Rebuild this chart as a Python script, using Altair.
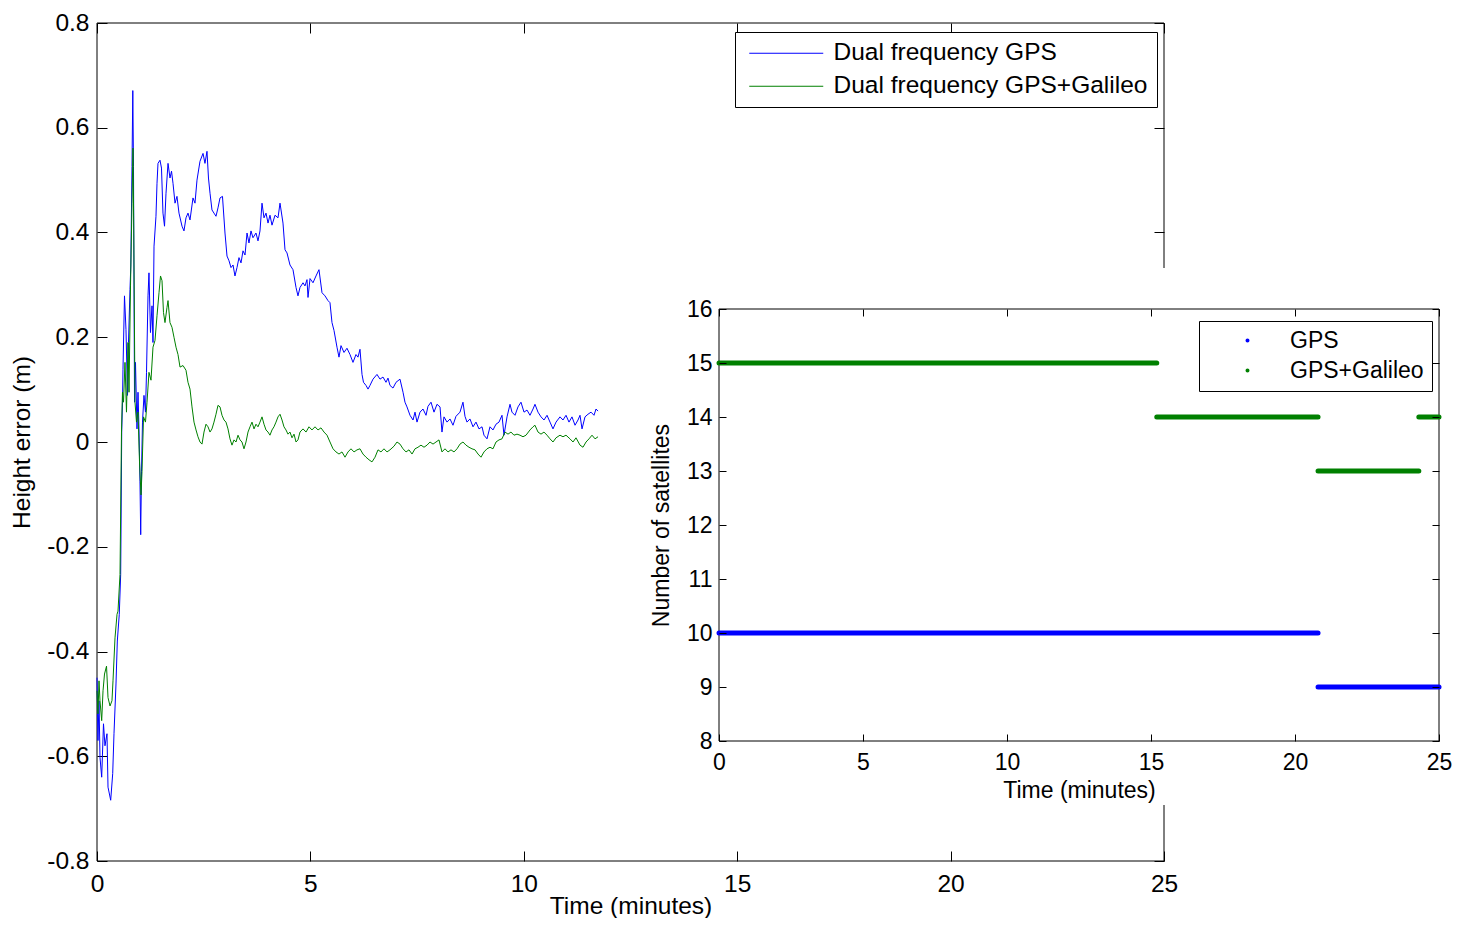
import altair as alt
import pandas as pd

# ---------------- data ----------------
GPS_SERIES = "Dual frequency GPS"
GAL_SERIES = "Dual frequency GPS+Galileo"

# (time in minutes, height error in m)
gps_height = [
    (0.000, -0.450), (0.023, -0.570), (0.047, -0.494), (0.070, -0.602), (0.110, -0.640),
    (0.152, -0.538), (0.187, -0.580), (0.234, -0.557), (0.258, -0.659), (0.321, -0.684),
    (0.368, -0.633), (0.398, -0.557), (0.445, -0.462), (0.476, -0.380), (0.522, -0.329),
    (0.555, -0.253), (0.579, 0.019), (0.597, 0.076), (0.609, 0.139), (0.644, 0.279),
    (0.679, 0.215), (0.715, 0.089), (0.738, 0.190), (0.773, 0.291), (0.792, 0.336),
    (0.820, 0.526), (0.839, 0.671), (0.855, 0.526), (0.879, 0.076), (0.902, 0.152),
    (0.937, 0.025), (0.961, 0.095), (0.984, 0.025), (1.007, -0.076), (1.024, -0.177),
    (1.043, -0.057), (1.066, 0.038), (1.101, 0.089), (1.136, 0.057), (1.160, 0.133),
    (1.195, 0.279), (1.218, 0.323), (1.253, 0.209), (1.289, 0.260), (1.312, 0.190),
    (1.336, 0.374), (1.382, 0.431), (1.406, 0.494), (1.429, 0.532), (1.476, 0.538),
    (1.511, 0.523), (1.546, 0.437), (1.582, 0.412), (1.617, 0.475), (1.664, 0.532),
    (1.710, 0.504), (1.746, 0.517), (1.781, 0.494), (1.828, 0.456), (1.874, 0.469),
    (1.921, 0.437), (1.992, 0.412), (2.038, 0.403), (2.085, 0.428), (2.132, 0.437),
    (2.179, 0.424), (2.249, 0.466), (2.296, 0.456), (2.343, 0.500), (2.413, 0.536),
    (2.484, 0.551), (2.530, 0.532), (2.577, 0.555), (2.612, 0.504), (2.648, 0.475),
    (2.694, 0.443), (2.741, 0.437), (2.788, 0.431), (2.835, 0.447), (2.882, 0.466),
    (2.940, 0.469), (2.999, 0.399), (3.046, 0.355), (3.093, 0.346), (3.140, 0.333),
    (3.187, 0.338), (3.233, 0.317), (3.280, 0.333), (3.327, 0.352), (3.374, 0.342),
    (3.421, 0.365), (3.468, 0.357), (3.515, 0.399), (3.561, 0.380), (3.608, 0.403),
    (3.655, 0.390), (3.725, 0.399), (3.772, 0.384), (3.819, 0.403), (3.866, 0.456),
    (3.913, 0.428), (3.960, 0.437), (4.007, 0.418), (4.053, 0.433), (4.100, 0.414),
    (4.171, 0.433), (4.241, 0.428), (4.288, 0.456), (4.358, 0.418), (4.405, 0.367),
    (4.452, 0.361), (4.522, 0.338), (4.592, 0.329), (4.663, 0.295), (4.709, 0.279),
    (4.756, 0.295), (4.827, 0.304), (4.873, 0.298), (4.920, 0.310), (4.944, 0.276),
    (4.991, 0.312), (5.061, 0.304), (5.131, 0.317), (5.201, 0.329), (5.272, 0.285),
    (5.342, 0.279), (5.412, 0.270), (5.459, 0.266), (5.506, 0.228), (5.553, 0.213),
    (5.623, 0.181), (5.670, 0.162), (5.717, 0.184), (5.787, 0.171), (5.857, 0.179),
    (5.928, 0.167), (5.998, 0.152), (6.068, 0.167), (6.115, 0.162), (6.162, 0.177),
    (6.209, 0.129), (6.244, 0.114), (6.303, 0.108), (6.350, 0.101), (6.396, 0.108),
    (6.467, 0.120), (6.560, 0.129), (6.631, 0.120), (6.701, 0.124), (6.771, 0.114),
    (6.818, 0.122), (6.865, 0.108), (6.935, 0.103), (7.006, 0.114), (7.099, 0.120),
    (7.170, 0.095), (7.216, 0.076), (7.263, 0.067), (7.334, 0.051), (7.404, 0.042),
    (7.451, 0.057), (7.498, 0.038), (7.568, 0.057), (7.638, 0.063), (7.709, 0.051),
    (7.755, 0.068), (7.826, 0.076), (7.896, 0.057), (7.966, 0.072), (8.037, 0.067),
    (8.083, 0.019), (8.130, 0.048), (8.201, 0.038), (8.271, 0.044), (8.341, 0.032),
    (8.411, 0.049), (8.505, 0.057), (8.575, 0.076), (8.622, 0.049), (8.669, 0.038),
    (8.739, 0.044), (8.810, 0.029), (8.880, 0.038), (8.950, 0.025), (9.021, 0.029),
    (9.067, 0.013), (9.138, 0.006), (9.208, 0.029), (9.278, 0.023), (9.349, 0.034),
    (9.419, 0.038), (9.489, 0.051), (9.536, 0.013), (9.607, 0.048), (9.677, 0.072),
    (9.723, 0.057), (9.794, 0.051), (9.864, 0.067), (9.934, 0.076), (10.005, 0.057),
    (10.075, 0.061), (10.145, 0.051), (10.216, 0.063), (10.262, 0.072), (10.333, 0.057),
    (10.403, 0.048), (10.473, 0.042), (10.544, 0.051), (10.614, 0.038), (10.684, 0.025),
    (10.755, 0.038), (10.848, 0.048), (10.918, 0.042), (10.989, 0.051), (11.059, 0.038),
    (11.129, 0.048), (11.200, 0.032), (11.270, 0.042), (11.317, 0.051), (11.364, 0.025),
    (11.434, 0.048), (11.504, 0.053), (11.575, 0.057), (11.645, 0.051), (11.692, 0.063),
    (11.739, 0.059),
]

gal_height = [
    (0.000, -0.475), (0.023, -0.519), (0.047, -0.456), (0.070, -0.494), (0.110, -0.532),
    (0.141, -0.475), (0.176, -0.443), (0.223, -0.428), (0.258, -0.488), (0.305, -0.504),
    (0.351, -0.494), (0.375, -0.456), (0.422, -0.374), (0.469, -0.329), (0.492, -0.323),
    (0.539, -0.253), (0.574, 0.019), (0.597, 0.095), (0.621, 0.076), (0.656, 0.152),
    (0.691, 0.057), (0.726, 0.190), (0.750, 0.095), (0.785, 0.298), (0.820, 0.456),
    (0.843, 0.561), (0.862, 0.399), (0.890, 0.076), (0.925, 0.038), (0.961, 0.057),
    (0.996, -0.038), (1.031, -0.101), (1.054, -0.057), (1.090, 0.048), (1.136, 0.038),
    (1.172, 0.076), (1.218, 0.133), (1.265, 0.118), (1.312, 0.181), (1.359, 0.194),
    (1.406, 0.241), (1.453, 0.285), (1.488, 0.317), (1.523, 0.308), (1.558, 0.247),
    (1.593, 0.228), (1.640, 0.257), (1.664, 0.270), (1.710, 0.228), (1.757, 0.219),
    (1.804, 0.200), (1.851, 0.181), (1.898, 0.167), (1.945, 0.143), (2.015, 0.146),
    (2.085, 0.137), (2.132, 0.114), (2.179, 0.101), (2.226, 0.067), (2.273, 0.038),
    (2.320, 0.023), (2.366, 0.010), (2.413, 0.000), (2.460, -0.004), (2.507, 0.019),
    (2.554, 0.034), (2.601, 0.029), (2.648, 0.019), (2.694, 0.025), (2.741, 0.038),
    (2.788, 0.053), (2.835, 0.070), (2.882, 0.067), (2.929, 0.051), (2.976, 0.042),
    (3.022, 0.038), (3.069, 0.025), (3.116, 0.006), (3.163, -0.006), (3.210, 0.004),
    (3.257, 0.000), (3.304, 0.013), (3.351, 0.004), (3.397, 0.000), (3.444, -0.013),
    (3.491, 0.000), (3.538, 0.019), (3.585, 0.029), (3.632, 0.038), (3.679, 0.025),
    (3.725, 0.034), (3.772, 0.029), (3.819, 0.038), (3.866, 0.048), (3.913, 0.034),
    (3.960, 0.023), (4.007, 0.019), (4.053, 0.013), (4.100, 0.023), (4.147, 0.029),
    (4.194, 0.038), (4.241, 0.048), (4.288, 0.053), (4.335, 0.042), (4.381, 0.029),
    (4.428, 0.023), (4.475, 0.015), (4.522, 0.019), (4.569, 0.008), (4.616, 0.015),
    (4.663, 0.000), (4.709, 0.004), (4.756, 0.019), (4.827, 0.025), (4.897, 0.019),
    (4.967, 0.029), (5.037, 0.023), (5.108, 0.029), (5.178, 0.023), (5.248, 0.027),
    (5.319, 0.019), (5.389, 0.013), (5.459, 0.000), (5.530, -0.013), (5.600, -0.019),
    (5.670, -0.023), (5.740, -0.019), (5.811, -0.029), (5.881, -0.019), (5.951, -0.013),
    (6.022, -0.019), (6.092, -0.015), (6.162, -0.013), (6.232, -0.023), (6.303, -0.029),
    (6.373, -0.034), (6.443, -0.038), (6.514, -0.029), (6.584, -0.015), (6.654, -0.019),
    (6.724, -0.013), (6.795, -0.019), (6.865, -0.015), (6.959, -0.008), (7.029, 0.000),
    (7.099, -0.004), (7.170, -0.013), (7.240, -0.019), (7.310, -0.015), (7.381, -0.023),
    (7.451, -0.013), (7.521, -0.010), (7.591, -0.006), (7.662, -0.010), (7.732, -0.006),
    (7.802, 0.000), (7.873, -0.004), (7.943, 0.000), (8.013, 0.004), (8.083, -0.019),
    (8.154, -0.013), (8.224, -0.019), (8.294, -0.015), (8.365, -0.019), (8.435, -0.013),
    (8.505, -0.004), (8.575, 0.000), (8.646, -0.006), (8.716, -0.010), (8.786, -0.013),
    (8.857, -0.015), (8.927, -0.023), (8.997, -0.029), (9.067, -0.019), (9.138, -0.013),
    (9.208, -0.010), (9.278, -0.013), (9.349, 0.000), (9.419, 0.004), (9.489, 0.006),
    (9.560, 0.019), (9.630, 0.015), (9.700, 0.019), (9.770, 0.013), (9.841, 0.015),
    (9.911, 0.013), (9.981, 0.010), (10.052, 0.013), (10.145, 0.023), (10.216, 0.029),
    (10.262, 0.032), (10.333, 0.019), (10.403, 0.015), (10.473, 0.019), (10.544, 0.013),
    (10.614, 0.006), (10.684, 0.000), (10.755, 0.008), (10.848, 0.013), (10.918, 0.010),
    (10.989, 0.013), (11.082, 0.006), (11.153, 0.000), (11.223, 0.008), (11.317, -0.006),
    (11.387, -0.010), (11.458, 0.000), (11.528, 0.006), (11.598, 0.013), (11.669, 0.006),
    (11.739, 0.010),
]

# number of satellites as step segments: (start minute, end minute, count)
GPS_SYS = "GPS"
GAL_SYS = "GPS+Galileo"
gps_sats = [(0.0, 20.8, 10), (20.8, 25.0, 9)]
gal_sats = [(0.0, 15.2, 15), (15.2, 20.8, 14), (20.8, 24.3, 13), (24.3, 25.0, 14)]

# axis limits and ticks
main_x_domain = [0, 25]
main_y_domain = [-0.8, 0.8]
main_x_ticks = [0, 5, 10, 15, 20, 25]
main_y_ticks = [-0.8, -0.6, -0.4, -0.2, 0, 0.2, 0.4, 0.6, 0.8]
inset_x_domain = [0, 25]
inset_y_domain = [8, 16]
inset_x_ticks = [0, 5, 10, 15, 20, 25]
inset_y_ticks = [8, 9, 10, 11, 12, 13, 14, 15, 16]

# ---------------- layout / style ----------------
FONT = "Liberation Sans"
W, H = 1067, 838
INSET_X_RANGE = [622, 1342]
INSET_Y_RANGE = [718, 286]
PANEL = dict(x=543, x2=1355, y=245, y2=782)
MAIN_FS = 24.5
INSET_FS = 23
BLUE, GREEN = "#0000ff", "#008000"


def make_axis(orient, values, offset, tick, fs, labels=False, title=None,
              label_pad=0, title_pad=0, z=0, title_y=None):
    opts = dict(orient=orient, values=values, offset=offset, tickSize=tick,
                tickColor="black", tickWidth=1, domain=False, grid=False,
                labels=labels, zindex=z, title=title)
    if labels:
        opts.update(labelFont=FONT, labelFontSize=fs, labelColor="black",
                    labelPadding=label_pad, labelExpr="'' + datum.value",
                    labelOverlap=False, labelFlush=False)
    if title:
        opts.update(titleFont=FONT, titleFontSize=fs, titleColor="black",
                    titleFontWeight="normal", titlePadding=title_pad)
    if title_y is not None:
        opts.update(titleY=title_y)
    return alt.Axis(**opts)


main_df = pd.DataFrame(
    [{"t": t, "h": h, "series": GPS_SERIES} for t, h in gps_height]
    + [{"t": t, "h": h, "series": GAL_SERIES} for t, h in gal_height]
)
sats_df = pd.DataFrame(
    [{"start": a, "end": b, "count": c, "system": GPS_SYS} for a, b, c in gps_sats]
    + [{"start": a, "end": b, "count": c, "system": GAL_SYS} for a, b, c in gal_sats]
)
main_box = pd.DataFrame({"x0": [main_x_domain[0]], "x1": [main_x_domain[1]],
                         "y0": [main_y_domain[0]], "y1": [main_y_domain[1]]})
inset_box = pd.DataFrame({"x0": [inset_x_domain[0]], "x1": [inset_x_domain[1]],
                          "y0": [inset_y_domain[0]], "y1": [inset_y_domain[1]]})

mx = alt.Scale(domain=main_x_domain, nice=False, zero=False)
my = alt.Scale(domain=main_y_domain, nice=False, zero=False)
ix = alt.Scale(domain=inset_x_domain, range=INSET_X_RANGE, nice=False, zero=False)
iy = alt.Scale(domain=inset_y_domain, range=INSET_Y_RANGE, nice=False, zero=False)

# main frame with bottom / left axes
main_frame = alt.Chart(main_box).mark_rect(fillOpacity=0, stroke="black", strokeWidth=1).encode(
    x=alt.X("x0:Q", scale=mx, axis=make_axis("bottom", main_x_ticks, -10, 10, MAIN_FS, True,
                                              "Time (minutes)", 11, 7, title_y=43)),
    x2="x1:Q",
    y=alt.Y("y0:Q", scale=my, axis=make_axis("left", main_y_ticks, -10, 10, MAIN_FS, True,
                                              "Height error (m)", 8, 12)),
    y2="y1:Q",
)

main_lines = alt.Chart(main_df).mark_line(strokeWidth=1).encode(
    x=alt.X("t:Q", scale=mx, axis=make_axis("top", main_x_ticks, -10, 10, MAIN_FS)),
    y=alt.Y("h:Q", scale=my, axis=make_axis("right", main_y_ticks, -10, 10, MAIN_FS)),
    color=alt.Color("series:N",
                    scale=alt.Scale(domain=[GPS_SERIES, GAL_SERIES], range=[BLUE, GREEN]),
                    legend=alt.Legend(title=None, orient="none", legendX=638, legendY=9,
                                      symbolType="M-7.4,0H7.4", symbolSize=100,
                                      symbolStrokeWidth=1, symbolOffset=30, labelOffset=35,
                                      labelFont=FONT, labelFontSize=MAIN_FS, labelColor="black",
                                      labelLimit=1000, padding=9, rowPadding=8,
                                      strokeColor="black", fillColor="white", cornerRadius=0)),
)

panel = alt.Chart(pd.DataFrame({"k": [0]})).mark_rect(fill="white").encode(
    x=alt.value(PANEL["x"]), x2=alt.value(PANEL["x2"]),
    y=alt.value(PANEL["y"]), y2=alt.value(PANEL["y2"]),
)

inset_frame = alt.Chart(inset_box).mark_rect(fillOpacity=0, stroke="black", strokeWidth=1).encode(
    x=alt.X("x0:Q", scale=ix, axis=make_axis("bottom", inset_x_ticks, -127, 7, INSET_FS, True,
                                              "Time (minutes)", 10, 5, z=1)),
    x2="x1:Q",
    y=alt.Y("y0:Q", scale=iy, axis=make_axis("left", inset_y_ticks, -629, 7, INSET_FS, True,
                                              "Number of satellites", 7, 13, z=1)),
    y2="y1:Q",
)

inset_rules = alt.Chart(sats_df).mark_rule(strokeWidth=5, strokeCap="round").encode(
    x=alt.X("start:Q", scale=ix, axis=make_axis("top", inset_x_ticks, -293, 7, INSET_FS, z=1)),
    x2="end:Q",
    y=alt.Y("count:Q", scale=iy, axis=make_axis("right", inset_y_ticks, 268, 7, INSET_FS, z=1)),
    color=alt.Color("system:N",
                    scale=alt.Scale(domain=[GPS_SYS, GAL_SYS], range=[BLUE, GREEN]),
                    legend=alt.Legend(title=None, orient="none", legendX=1102, legendY=298,
                                      symbolType="circle", symbolSize=4, symbolStrokeWidth=2,
                                      symbolOffset=29, labelOffset=31,
                                      labelFont=FONT, labelFontSize=INSET_FS, labelColor="black",
                                      labelLimit=1000, padding=8, rowPadding=6,
                                      strokeColor="black", fillColor="white", cornerRadius=0)),
)

chart = (
    alt.layer(main_frame, main_lines, panel, inset_frame, inset_rules)
    .resolve_scale(x="independent", y="independent", color="independent")
    .resolve_axis(x="independent", y="independent")
    .resolve_legend(color="independent")
    .properties(width=W, height=H,
                autosize=alt.AutoSizeParams(type="none"),
                padding={"left": 89, "top": 15, "right": 292, "bottom": 57},
                background="white")
    .configure_view(stroke=None)
)

chart.save("out.html", embed_options={"renderer": "svg", "actions": False})
